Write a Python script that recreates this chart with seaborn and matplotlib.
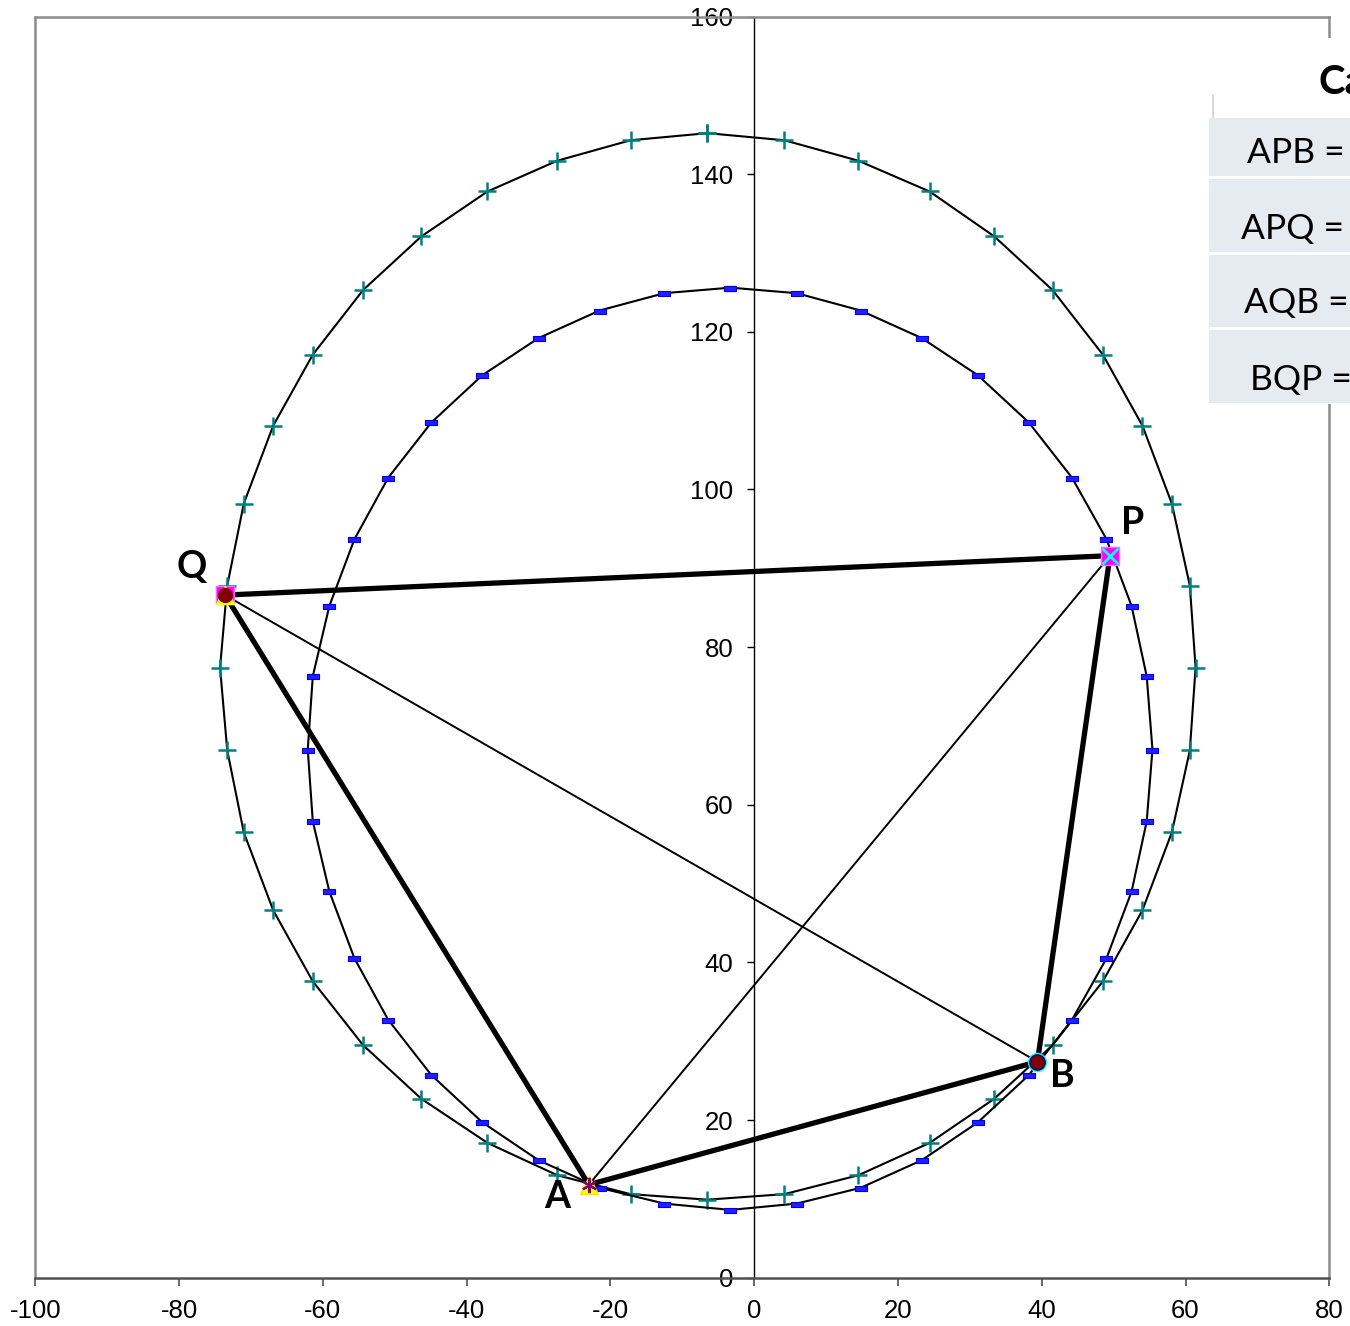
import matplotlib
matplotlib.use("Agg")
import matplotlib.pyplot as plt
import seaborn as sns
from matplotlib.patches import Rectangle
from matplotlib.lines import Line2D

# outer circle (teal + markers), read clockwise from the top
outer_x = [-6.5, 4.2, 14.5, 24.4, 33.4, 41.5, 48.5, 54.0, 58.1, 60.6, 61.4, 60.6, 58.1, 54.0,
           48.5, 41.5, 33.4, 24.4, 14.5, 4.2, -6.5, -17.2, -27.4, -37.1, -46.3, -54.4, -61.4,
           -66.9, -71.0, -73.3, -74.3, -73.3, -71.0, -66.9, -61.4, -54.4, -46.3, -37.1, -27.4,
           -17.2, -6.5]
outer_y = [145.2, 144.3, 141.7, 137.8, 132.1, 125.3, 117.1, 108.1, 98.2, 87.8, 77.4, 66.9,
           56.5, 46.6, 37.6, 29.5, 22.7, 17.1, 13.0, 10.6, 9.9, 10.6, 13.0, 17.1, 22.7, 29.5,
           37.6, 46.6, 56.5, 66.9, 77.4, 87.8, 98.2, 108.1, 117.1, 125.3, 132.1, 137.8, 141.7,
           144.3, 145.2]

# inner circle (blue dash markers)
inner_x = [-3.3, 5.9, 14.8, 23.3, 31.1, 38.2, 44.2, 49.0, 52.5, 54.6, 55.4, 54.6, 52.5, 49.0,
           44.2, 38.2, 31.1, 23.3, 14.8, 5.9, -3.3, -12.5, -21.5, -30.0, -37.8, -44.9, -50.9,
           -55.6, -59.1, -61.4, -62.1, -61.4, -59.1, -55.6, -50.9, -44.9, -37.8, -30.0, -21.5,
           -12.5, -3.3]
inner_y = [125.6, 124.9, 122.7, 119.2, 114.5, 108.5, 101.5, 93.7, 85.2, 76.3, 67.0, 57.9, 49.0,
           40.5, 32.7, 25.7, 19.7, 14.9, 11.4, 9.4, 8.6, 9.4, 11.4, 14.9, 19.7, 25.7, 32.7, 40.5,
           49.0, 57.9, 67.0, 76.3, 85.2, 93.7, 101.5, 108.5, 114.5, 119.2, 122.7, 124.9, 125.6]

# the four points
pts = {"A": (-23.0, 11.8), "B": (39.4, 27.4), "P": (49.5, 91.6), "Q": (-73.6, 86.6)}
label_pos = {"A": (-27.4, 10.2), "B": (42.9, 25.6), "P": (52.6, 95.8), "Q": (-78.2, 90.1)}
thick_path = ["Q", "P", "B", "A", "Q"]
thin_lines = [("Q", "B"), ("A", "P")]

x_ticks = [-100, -80, -60, -40, -20, 0, 20, 40, 60, 80]
y_ticks = [0, 20, 40, 60, 80, 100, 120, 140, 160]

table_title = "Ca"
table_rows = ["APB =", "APQ =", "AQB =", "BQP ="]
row_text_x = [1247, 1241, 1244, 1250]
row_text_y = [153, 229, 303, 380]
row_spans = [(118, 176), (179, 252), (255, 327), (330, 403)]

sns.set_style("white")
plt.rcParams["font.family"] = ["Liberation Sans", "DejaVu Sans"]
plt.rcParams["text.color"] = "black"
plt.rcParams["xtick.labelcolor"] = "black"
plt.rcParams["ytick.labelcolor"] = "black"

W, H = 1350, 1326
fig = plt.figure(figsize=(W / 100, H / 100), dpi=100)
ax = fig.add_axes([35.3 / W, 1 - 1277.7 / H, 1294.0 / W, 1261.2 / H])

# circles
dash = [(-1, -0.4), (1, -0.4), (1, 0.4), (-1, 0.4), (-1, -0.4)]
sns.lineplot(x=outer_x, y=outer_y, sort=False, estimator=None, color="black", lw=1.5,
             marker="+", markersize=13, markeredgecolor="#008080", markeredgewidth=1.8, ax=ax)
sns.lineplot(x=inner_x, y=inner_y, sort=False, estimator=None, color="black", lw=1.5,
             marker=dash, markersize=9, markerfacecolor="#2020FF", markeredgecolor="#0000EE",
             markeredgewidth=0.8, ax=ax)

# chords
sns.lineplot(x=[pts[k][0] for k in thick_path], y=[pts[k][1] for k in thick_path],
             sort=False, estimator=None, color="black", lw=3.8, ax=ax)
for a, b in thin_lines:
    sns.lineplot(x=[pts[a][0], pts[b][0]], y=[pts[a][1], pts[b][1]], sort=False,
                 estimator=None, color="black", lw=1.4, ax=ax)

# point markers
ax.plot(*pts["Q"], marker="s", ms=13, mfc="#FF00FF", mec="#FF66FF", zorder=5)
ax.plot(*pts["Q"], marker="^", ms=13, mfc="yellow", mec="yellow", zorder=6)
ax.plot(*pts["Q"], marker="o", ms=10, mfc="#800000", mec="#800000", zorder=7)
ax.plot(*pts["P"], marker="s", ms=13, mfc="#FF00FF", mec="#FF66FF", zorder=5)
ax.plot(*pts["P"], marker="x", ms=11, mec="#00FFFF", mew=2, zorder=6)
ax.plot(*pts["A"], marker="^", ms=13, mfc="yellow", mec="#FFE000", zorder=5)
ax.plot(*pts["A"], marker=(6, 2, 0), ms=11, mec="#800080", mew=1.5, zorder=6)
ax.plot(*pts["B"], marker="o", ms=13, mfc="#00FFFF", mec="#00FFFF", zorder=5)
ax.plot(*pts["B"], marker="o", ms=11, mfc="#800000", mec="#000080", mew=1, zorder=6)

for k, (lx, ly) in label_pos.items():
    ax.text(lx, ly, k, fontsize=27, fontweight="bold", family=["Lato", "DejaVu Sans"],
            color="black", ha="center", va="center", zorder=8)

ax.set_xlim(-100, 80)
ax.set_ylim(0, 160)
ax.set_xticks(x_ticks)
ax.set_yticks(y_ticks)
ax.set_xticklabels([str(v) for v in x_ticks])
ax.set_yticklabels([str(v) for v in y_ticks])

# y axis through x = 0, gray frame around the plot area
ax.spines["left"].set_position(("data", 0))
ax.spines["left"].set_color("black")
ax.spines["left"].set_linewidth(1.0)
ax.spines["bottom"].set_color("#505050")
ax.spines["bottom"].set_linewidth(1.8)
for s in ["top", "right"]:
    ax.spines[s].set_color("#8C8C8C")
    ax.spines[s].set_linewidth(1.8)
ax.add_line(Line2D([0, 0], [0, 1], transform=ax.transAxes, color="#8C8C8C", lw=1.8,
                   clip_on=False))
ax.tick_params(axis="x", direction="out", length=6, width=1.2, color="#505050",
               labelsize=18.5, pad=9, bottom=True, labelcolor="black")
ax.tick_params(axis="y", direction="out", length=5, width=1, color="black",
               labelsize=18.5, pad=10, left=True, labelcolor="black")

# partly visible table on the right
fig.add_artist(Rectangle((1208 / W, 1 - 404 / H), 142 / W, 366 / H, transform=fig.transFigure,
                         facecolor="white", edgecolor="none", zorder=10))
fig.add_artist(Line2D([1213 / W, 1213 / W], [1 - 127 / H, 1 - 95 / H], transform=fig.transFigure,
                      color="#D9D9D9", lw=1.5, zorder=11))
for (t, b) in row_spans:
    fig.add_artist(Rectangle((1209 / W, 1 - b / H), 141 / W, (b - t) / H,
                             transform=fig.transFigure, facecolor="#E6EBF2",
                             edgecolor="none", zorder=11))
fig.text(1318 / W, 1 - 82 / H, table_title, fontsize=29, fontweight="bold",
         family=["Lato", "DejaVu Sans"], color="black", ha="left", va="center", zorder=12)
for txt, tx, ty in zip(table_rows, row_text_x, row_text_y):
    fig.text(tx / W, 1 - ty / H, txt, fontsize=25.5, family=["Lato", "DejaVu Sans"],
             color="black", ha="left", va="center", zorder=12)

fig.savefig("out.png", dpi=100)
